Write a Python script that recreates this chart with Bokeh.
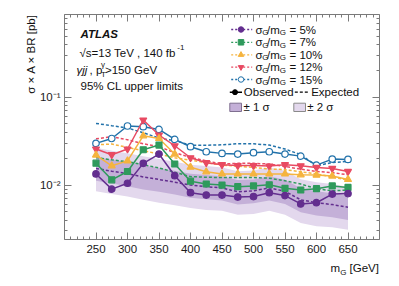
import math
from bokeh.plotting import figure
from bokeh.models import (FixedTicker, CustomJSTickFormatter, LinearAxis, LogAxis, Label,
                          Range1d, Title, Div)
from bokeh.layouts import column
from bokeh.embed import file_html
from bokeh.resources import INLINE

# ---------------- data ----------------
mass = [250, 275, 300, 325, 350, 375, 400, 425, 450, 475, 500, 525, 550, 575, 600, 625, 650]

obs5 = [0.0134, 0.0090, 0.0105, 0.0177, 0.0226, 0.0128, 0.0082, 0.0077, 0.0077, 0.0073, 0.0074, 0.0082, 0.0076, 0.0061, 0.0063, 0.0079, 0.0080]
exp5 = [0.0155, 0.0144, 0.0135, 0.0124, 0.0116, 0.0108, 0.0100, 0.0096, 0.0093, 0.0084, 0.0086, 0.0093, 0.0085, 0.0068, 0.0063, 0.0060, 0.0056]

obs7 = [0.0178, 0.0115, 0.0143, 0.0253, 0.0286, 0.0174, 0.0111, 0.0103, 0.0100, 0.0096, 0.0098, 0.0101, 0.0092, 0.0088, 0.0091, 0.0098, 0.0094]
exp7 = [0.0207, 0.0194, 0.0185, 0.0171, 0.0157, 0.0140, 0.0125, 0.0123, 0.0122, 0.0122, 0.0122, 0.0120, 0.0112, 0.0103, 0.0091, 0.0086, 0.0088]

obs10 = [0.0220, 0.0166, 0.0189, 0.0365, 0.0340, 0.0226, 0.0160, 0.0142, 0.0134, 0.0134, 0.0134, 0.0134, 0.0134, 0.0131, 0.0130, 0.0127, 0.0116]
exp10 = [0.0288, 0.0294, 0.0269, 0.0247, 0.0226, 0.0205, 0.0192, 0.0180, 0.0169, 0.0164, 0.0159, 0.0153, 0.0150, 0.0142, 0.0134, 0.0124, 0.0114]

obs12 = [0.0258, 0.0222, 0.0258, 0.0552, 0.0372, 0.0281, 0.0205, 0.0180, 0.0171, 0.0167, 0.0167, 0.0165, 0.0171, 0.0166, 0.0159, 0.0155, 0.0143]
exp12 = [0.0337, 0.0356, 0.0329, 0.0296, 0.0274, 0.0234, 0.0207, 0.0189, 0.0174, 0.0177, 0.0177, 0.0174, 0.0163, 0.0152, 0.0143, 0.0139, 0.0131]

obs15 = [0.0299, 0.0340, 0.0472, 0.0463, 0.0431, 0.0332, 0.0274, 0.0240, 0.0230, 0.0226, 0.0234, 0.0240, 0.0226, 0.0214, 0.0169, 0.0198, 0.0196]
exp15 = [0.0505, 0.0475, 0.0448, 0.0395, 0.0344, 0.0321, 0.0285, 0.0285, 0.0288, 0.0296, 0.0296, 0.0286, 0.0258, 0.0222, 0.0166, 0.0181, 0.0186]

band1_hi = [0.0210, 0.0195, 0.0183, 0.0168, 0.0157, 0.0146, 0.0135, 0.0130, 0.0126, 0.0114, 0.0116, 0.0126, 0.0115, 0.0092, 0.0085, 0.0081, 0.0076]
band1_lo = [0.0112, 0.0104, 0.0097, 0.0089, 0.0084, 0.0078, 0.0072, 0.0069, 0.0067, 0.0060, 0.0062, 0.0067, 0.0061, 0.0049, 0.0045, 0.0043, 0.0040]
band2_hi = [0.0266, 0.0247, 0.0231, 0.0213, 0.0199, 0.0185, 0.0171, 0.0165, 0.0159, 0.0144, 0.0147, 0.0159, 0.0146, 0.0117, 0.0108, 0.0103, 0.0096]
band2_lo = [0.0085, 0.0079, 0.0074, 0.0068, 0.0063, 0.0059, 0.0055, 0.0052, 0.0051, 0.0046, 0.0047, 0.0051, 0.0046, 0.0037, 0.0034, 0.0033, 0.0031]

width_labels = ["5%", "7%", "10%", "12%", "15%"]
x_tick_values = [250, 300, 350, 400, 450, 500, 550, 600, 650]

# ---------------- style ----------------
C5, C7, C10, C12, C15 = "#632e8f", "#2f9a5c", "#f5b43f", "#e84a62", "#2272aa"
BAND1, BAND2 = "#c4b0d8", "#e3d8ed"
AX = "#7a7a7a"
FONT = "Liberation Sans"

X0, X1 = 200, 700
Y0, Y1 = 0.0024, 0.88
W, H = 391, 260
FL, FR, FT, FB = 64, 379, 14, 239   # frame edges in canvas pixels
LB, LT = math.log10(Y0), math.log10(Y1)


def dx(px):
    return X0 + (px - FL) / (FR - FL) * (X1 - X0)


def dy(py):
    return 10 ** (LB + (FB - py) / (FB - FT) * (LT - LB))


p = figure(width=W, height=H, x_range=Range1d(X0, X1), y_range=Range1d(Y0, Y1),
           y_axis_type="log", output_backend="svg", toolbar_location=None,
           min_border_left=FL, min_border_right=W - FR, min_border_top=FT,
           min_border_bottom=H - FB)
p.grid.visible = False
p.outline_line_color = None
p.background_fill_color = "white"
p.border_fill_color = "white"

xt = FixedTicker(ticks=x_tick_values, minor_ticks=list(range(200, 701, 10)))
yt = FixedTicker(ticks=[0.01, 0.1],
                 minor_ticks=[k * 10.0 ** e for e in (-3, -2, -1) for k in range(2, 10)])
yfmt = CustomJSTickFormatter(code="""
const e = Math.round(Math.log10(tick));
const m = {'-':'\u207b','0':'\u2070','1':'\u00b9','2':'\u00b2','3':'\u00b3'};
return '10' + String(e).split('').map(c => m[c]).join('');
""")
blank = CustomJSTickFormatter(code="return ''")


def style(ax, ticker, show):
    ax.ticker = ticker
    ax.axis_line_color = AX
    ax.axis_line_width = 1
    ax.major_tick_line_color = AX
    ax.minor_tick_line_color = AX
    ax.major_tick_in = 7
    ax.major_tick_out = 0
    ax.minor_tick_in = 3
    ax.minor_tick_out = 0
    ax.major_label_text_font = FONT
    ax.major_label_text_font_size = "11.5px"
    ax.major_label_text_color = "#1a1a1a"
    ax.axis_label = None
    if not show:
        ax.formatter = blank
        ax.major_label_standoff = 0


style(p.xaxis[0], xt, True)
p.xaxis[0].major_label_standoff = 5
style(p.yaxis[0], yt, True)
p.yaxis[0].formatter = yfmt
p.yaxis[0].major_label_standoff = 4

top = LinearAxis()
style(top, xt, False)
p.add_layout(top, "above")
right = LogAxis()
style(right, yt, False)
p.add_layout(right, "right")

# y axis title (outside the frame)
p.add_layout(Title(text="\u03c3 \u00d7 A \u00d7 BR [pb]", align="right", offset=0, standoff=0,
                   text_font=FONT, text_font_size="11.5px", text_font_style="normal",
                   text_color="#111111"), "left")

# ---------------- bands ----------------
p.varea(x=mass, y1=band2_lo, y2=band2_hi, fill_color=BAND2)
p.varea(x=mass, y1=band1_lo, y2=band1_hi, fill_color=BAND1)

series = [
    (obs15, exp15, C15, "circle", "white", 6.5),
    (obs12, exp12, C12, "inverted_triangle", C12, 7),
    (obs10, exp10, C10, "triangle", C10, 7),
    (obs7, exp7, C7, "square", C7, 6),
    (obs5, exp5, C5, "circle", C5, 6.5),
]
for obs, exp, c, mk, fc, sz in series:
    p.line(mass, exp, line_color=c, line_width=1.5, line_dash="3 2")
for obs, exp, c, mk, fc, sz in series:
    p.line(mass, obs, line_color=c, line_width=1.5)
    p.scatter(mass, obs, marker=mk, size=sz, fill_color=fc, line_color=c, line_width=1.2)


# ---------------- texts ----------------
def lab(text, px, py, size="11.5px", style="normal", align="left", angle=0.0, color="#111111"):
    p.add_layout(Label(x=dx(px), y=dy(py), text=text, text_font=FONT, text_font_size=size,
                       text_font_style=style, text_align=align, text_baseline="middle",
                       angle=angle, text_color=color))


lab("ATLAS", 80, 33, style="bold italic")
lab("\u221as=13 TeV , 140 fb", 79, 52)
lab("-1", 176.8, 47, size="8px")
lab("\u03b3jj", 76, 69, style="italic")
lab(",", 89, 69)
lab("p", 95.5, 69)
lab("\u03b3", 100.5, 64, size="8px")
lab("T", 100.5, 74, size="8px")
lab(">150 GeV", 104.5, 69)
lab("95% CL upper limits", 80, 85)

# ---------------- legend ----------------
rows_y = [29, 41.8, 54.3, 66.7, 79]
leg = [(C5, "circle", C5), (C7, "square", C7), (C10, "triangle", C10),
       (C12, "inverted_triangle", C12), (C15, "circle", "white")]
for (c, mk, fc), wl, y in zip(leg, width_labels, rows_y):
    p.line([dx(230.7), dx(251.7)], [dy(y), dy(y)], line_color=c, line_width=1.3, line_dash="2 2")
    p.scatter([dx(240.5)], [dy(y)], marker=mk, size=5.5, fill_color=fc, line_color=c, line_width=1)
    lab("\u03c3", 255, y)
    lab("G", 261.7, y + 3, size="8px")
    lab("/m", 266.5, y)
    lab("G", 279.3, y + 3, size="8px")
    lab("= " + wl, 289, y)

yo = 91.7
p.line([dx(229.3), dx(241.5)], [dy(yo), dy(yo)], line_color="black", line_width=1.5)
p.scatter([dx(234.5)], [dy(yo)], marker="circle", size=5, fill_color="black", line_color="black")
lab("Observed", 243.3, yo)
p.line([dx(294.3), dx(308.3)], [dy(yo), dy(yo)], line_color="black", line_width=1.3, line_dash="3 2")
lab("Expected", 310.7, yo)

yb = 106.7
p.quad(left=[dx(229.3)], right=[dx(241)], bottom=[dy(111)], top=[dy(102.7)],
       fill_color=BAND1, line_color="#7f6f90", line_width=1)
lab("\u00b1 1 \u03c3", 243, yb)
p.quad(left=[dx(293.3)], right=[dx(305)], bottom=[dy(111)], top=[dy(102.7)],
       fill_color=BAND2, line_color="#8a8a8a", line_width=1)
lab("\u00b1 2 \u03c3", 306.7, yb)

# x axis title below the figure
xdiv = Div(width=W, height=18, margin=(0, 0, 0, 0),
           text=("<div style=\"width:%dpx;text-align:right;font-family:'Liberation Sans';"
                 "font-size:11.5px;line-height:14px;color:#111;white-space:nowrap\">"
                 "m<span style=\"font-size:8px;position:relative;top:3px\">G</span> [GeV]</div>") % FR)

layout = column(p, xdiv, spacing=0)
open("out.html", "w").write(file_html(layout, INLINE))
